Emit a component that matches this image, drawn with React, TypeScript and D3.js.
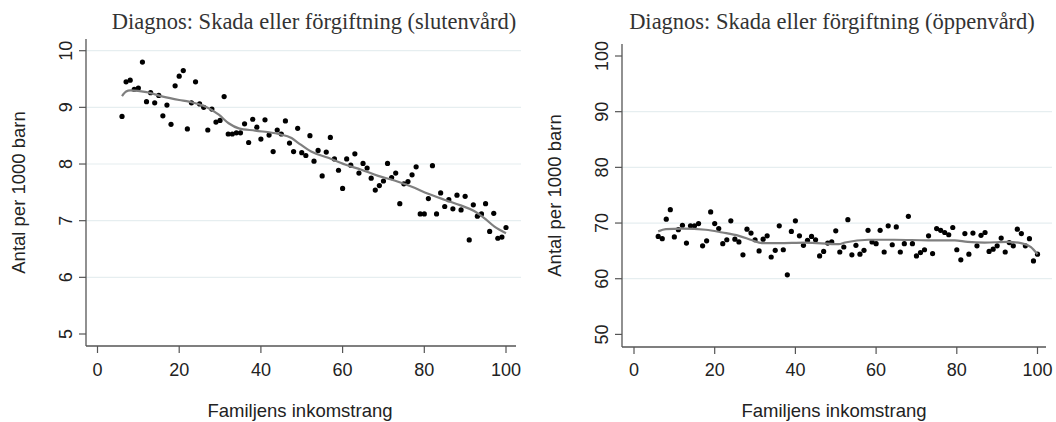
import React from "react";
import * as d3 from "d3";

const W = 1056;
const H = 422;

// one observation per income rank, starting at rank 6
const rankStart = 6;

const slutenvard = [
  8.84, 9.45, 9.48, 9.32, 9.34, 9.8, 9.1, 9.26, 9.08, 9.21, 8.85, 9.04, 8.7, 9.38, 9.55,
  9.65, 8.62, 9.08, 9.45, 9.06, 9.0, 8.6, 8.97, 8.74, 8.77, 9.19, 8.53, 8.53, 8.55, 8.55,
  8.71, 8.38, 8.79, 8.65, 8.44, 8.78, 8.51, 8.22, 8.6, 8.53, 8.76, 8.37, 8.22, 8.63, 8.2,
  8.15, 8.5, 8.05, 8.24, 7.79, 8.21, 8.47, 8.09, 7.89, 7.57, 8.09, 7.98, 8.18, 7.84, 8.01,
  7.93, 7.75, 7.54, 7.62, 7.7, 8.01, 7.76, 7.84, 7.3, 7.65, 7.69, 7.81, 7.95, 7.12, 7.12,
  7.39, 7.97, 7.12, 7.49, 7.25, 7.37, 7.21, 7.45, 7.19, 7.43, 6.66, 7.28, 7.08, 7.12, 7.3,
  6.81, 7.13, 6.69, 6.71, 6.88,
];

const oppenvard = [
  67.6, 67.2, 70.7, 72.4, 67.5, 68.8, 69.6, 66.4, 69.5, 69.5, 69.9, 65.9, 66.8, 72.0, 69.9,
  69.0, 66.3, 67.0, 70.4, 67.1, 66.6, 64.3, 68.9, 68.2, 67.0, 65.0, 67.1, 67.7, 63.9, 65.1,
  69.5, 65.2, 60.7, 68.5, 70.4, 67.7, 66.0, 66.9, 67.6, 67.0, 64.1, 64.9, 66.4, 66.6, 68.6,
  64.8, 65.7, 70.6, 64.3, 66.0, 64.4, 65.1, 68.7, 66.6, 66.3, 68.7, 64.8, 69.5, 66.1, 69.3,
  64.8, 66.3, 71.2, 66.3, 64.1, 64.7, 65.2, 67.7, 64.5, 69.0, 68.7, 68.3, 67.9, 69.2, 65.2,
  63.4, 68.1, 64.4, 68.2, 65.9, 67.8, 68.3, 64.9, 65.3, 65.9, 67.3, 64.8, 66.5, 65.9, 68.9,
  68.1, 65.9, 67.2, 63.2, 64.4,
];

// smoothed (lowess) lines
const slutenSmoothX = [6, 7, 8, 12, 16, 20, 22.4, 26.5, 29.7, 32.1, 34.6, 38.6, 44.3, 47.5, 49.2, 52.3, 56.5, 60.6, 64.6, 68.7, 72.7, 77.6, 80.8, 84.9, 88.9, 92.2, 94.6, 97.1, 100];
const slutenSmoothY = [9.2, 9.28, 9.3, 9.27, 9.19, 9.13, 9.1, 9.01, 8.87, 8.72, 8.63, 8.59, 8.53, 8.46, 8.37, 8.22, 8.11, 7.99, 7.9, 7.79, 7.71, 7.58, 7.48, 7.37, 7.27, 7.17, 7.05, 6.9, 6.78];

const oppenSmoothX = [6, 7.9, 12, 17.8, 21.9, 26, 29.3, 31.7, 35.9, 42.4, 50.7, 52.3, 58.1, 64.6, 72.9, 79.5, 82.7, 86.9, 92.6, 95.9, 98.3, 100];
const oppenSmoothY = [68.5, 68.9, 69.0, 68.8, 68.3, 67.7, 66.9, 66.4, 66.4, 66.5, 66.2, 66.5, 67.0, 67.0, 66.9, 66.9, 66.6, 66.5, 66.6, 66.4, 65.7, 64.4];

const xTicks = [0, 20, 40, 60, 80, 100];
const slutenYTicks = [5, 6, 7, 8, 9, 10];
const slutenGrid = [6, 7, 8, 9, 10];
const oppenYTicks = [50, 60, 70, 80, 90, 100];
const oppenGrid = [60, 70, 80, 90];

const yTitle = "Antal per 1000 barn";
const xTitle = "Familjens inkomstrang";

const sans = "'Liberation Sans', Arial, Helvetica, sans-serif";
const serif = "'Liberation Serif', 'Times New Roman', serif";

type PanelProps = {
  title: string;
  values: number[];
  smoothX: number[];
  smoothY: number[];
  yTicks: number[];
  grid: number[];
  yDomain: [number, number];
  box: { left: number; right: number; gridRight: number; top: number; bottom: number; x0: number; x100: number; yLo: number; yHi: number; titleX: number; xTitleX: number };
};

const Panel = ({ title, values, smoothX, smoothY, yTicks, grid, yDomain, box }: PanelProps) => {
  const x = d3.scaleLinear().domain([0, 100]).range([box.x0, box.x100]);
  const y = d3.scaleLinear().domain(yDomain).range([box.yLo, box.yHi]);
  const pts = values.map((v, i) => ({ r: rankStart + i, v }));
  const smooth = smoothX.map((sx, i) => [sx, smoothY[i]] as [number, number]);
  const line = d3
    .line<[number, number]>()
    .x((d) => x(d[0]))
    .y((d) => y(d[1]))
    .curve(d3.curveMonotoneX);
  const midY = (box.top + box.bottom) / 2;

  return (
    <g>
      <text x={box.titleX} y={29} textAnchor="middle" fontFamily={serif} fontSize={22.5} fill="#333">
        {title}
      </text>
      {grid.map((t) => (
        <line key={"g" + t} x1={box.left} x2={box.gridRight} y1={y(t)} y2={y(t)} stroke="#e6eef0" strokeWidth={1.2} />
      ))}
      {/* y axis */}
      <line x1={box.left} x2={box.left} y1={box.top} y2={box.bottom} stroke="#555" strokeWidth={1.3} />
      {yTicks.map((t) => (
        <g key={"y" + t}>
          <line x1={box.left - 7} x2={box.left} y1={y(t)} y2={y(t)} stroke="#555" strokeWidth={1.2} />
          <text
            transform={`translate(${box.left - 14.5},${y(t)}) rotate(-90)`}
            textAnchor="middle"
            fontFamily={sans}
            fontSize={18}
            fill="#222"
          >
            {t}
          </text>
        </g>
      ))}
      {/* x axis */}
      <line x1={box.left} x2={box.right} y1={box.bottom} y2={box.bottom} stroke="#555" strokeWidth={1.3} />
      {xTicks.map((t) => (
        <g key={"x" + t}>
          <line x1={x(t)} x2={x(t)} y1={box.bottom} y2={box.bottom + 7} stroke="#555" strokeWidth={1.2} />
          <text x={x(t)} y={376} textAnchor="middle" fontFamily={sans} fontSize={18} fill="#222">
            {t}
          </text>
        </g>
      ))}
      <text
        transform={`translate(${box.left - 61},${midY}) rotate(-90)`}
        textAnchor="middle"
        fontFamily={sans}
        fontSize={18.5}
        fill="#222"
      >
        {yTitle}
      </text>
      <text x={box.xTitleX} y={417} textAnchor="middle" fontFamily={sans} fontSize={18.5} fill="#222">
        {xTitle}
      </text>
      {pts.map((d) => (
        <circle key={d.r} cx={x(d.r)} cy={y(d.v)} r={2.6} fill="#000" />
      ))}
      <path d={line(smooth) ?? ""} fill="none" stroke="#7f7f7f" strokeWidth={2.2} />
    </g>
  );
};

export default function App() {
  return (
    <svg
      width={W}
      height={H}
      viewBox={`0 0 ${W} ${H}`}
      style={{ position: "absolute", left: 0, top: 0, background: "#fff" }}
    >
      <rect width={W} height={H} fill="#fff" />
      <Panel
        title="Diagnos: Skada eller förgiftning (slutenvård)"
        values={slutenvard}
        smoothX={slutenSmoothX}
        smoothY={slutenSmoothY}
        yTicks={slutenYTicks}
        grid={slutenGrid}
        yDomain={[5, 10]}
        box={{ left: 86, right: 516, gridRight: 521, top: 39, bottom: 346, x0: 97.5, x100: 506, yLo: 334, yHi: 50.7, titleX: 314, xTitleX: 300 }}
      />
      <Panel
        title="Diagnos: Skada eller förgiftning (öppenvård)"
        values={oppenvard}
        smoothX={oppenSmoothX}
        smoothY={oppenSmoothY}
        yTicks={oppenYTicks}
        grid={oppenGrid}
        yDomain={[50, 100]}
        box={{ left: 622, right: 1046, gridRight: 1052, top: 44, bottom: 347, x0: 634, x100: 1037.5, yLo: 334.4, yHi: 56, titleX: 832, xTitleX: 834 }}
      />
    </svg>
  );
}
